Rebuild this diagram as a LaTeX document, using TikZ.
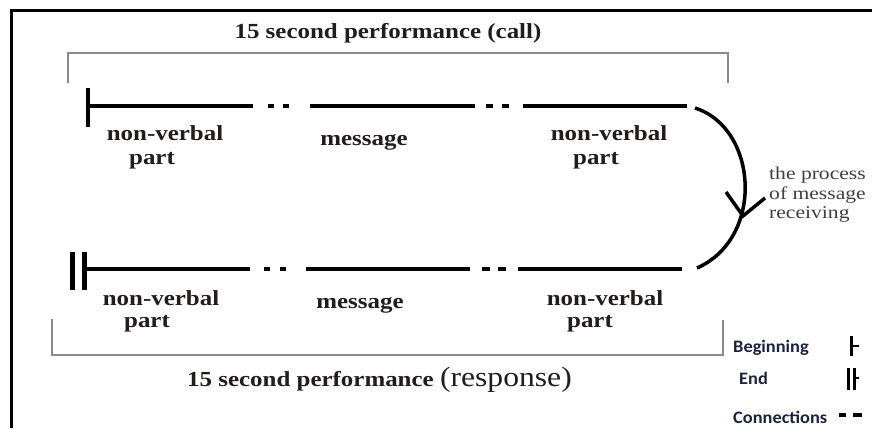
\documentclass[tikz,border=0pt]{standalone}
\usepackage{fontspec}
\setmainfont{Liberation Serif}
\newfontfamily\labelfont[FakeStretch=1.16]{Liberation Serif}
\newfontfamily\notefont[FakeStretch=1.2]{Liberation Serif}
\newfontfamily\respfont[FakeStretch=1.13]{Liberation Serif}
\newfontfamily\keyfont[FakeStretch=1.05]{Carlito}
\definecolor{ink}{HTML}{221C1A}
\definecolor{keyink}{HTML}{1C2340}
\definecolor{bracketgray}{HTML}{8A8A8A}
\tikzset{
  seg/.style={line width=4pt},
  linkdash/.style={line width=4pt},
  bracketline/.style={draw=bracketgray, line width=2.5pt},
  lbl/.style={font=\labelfont\bfseries\fontsize{21.5}{24}\selectfont, text=ink, inner sep=0pt, anchor=base},
  note/.style={font=\notefont\fontsize{18}{19.5}\selectfont, text=ink!85, inner sep=0pt, align=left, anchor=north west},
  keytext/.style={font=\keyfont\bfseries\fontsize{17.5}{20}\selectfont, text=keyink, inner sep=0pt, anchor=base west},
  keymark/.style={line width=3pt, draw=black},
}
\begin{document}
\begin{tikzpicture}[x=1pt,y=-1pt]
\useasboundingbox (0,0) rectangle (872,428);
\fill[white] (0,0) rectangle (872,428);
% outer frame (top and left edges)
\draw[line width=3pt] (11,428) -- (11,11) -- (872,11);

% ---------- call ----------
\node[lbl] (calltitle) at (388,39) {15 second performance (call)};
\draw[bracketline] (68,83) -- (68,53) -- (728,53) -- (728,83);

\coordinate (c0) at (88,106);
\coordinate (c1) at (253,106);
\coordinate (c2) at (310,106);
\coordinate (c3) at (475,106);
\coordinate (c4) at (523,106);
\coordinate (c5) at (687,106);
\draw[seg] (88,88) -- (88,127);
\draw[seg] (c0) -- (c1);
\draw[linkdash] (268,106) -- ++(6,0) (283,106) -- ++(6,0);
\draw[seg] (c2) -- (c3);
\draw[linkdash] (486,106) -- ++(7,0) (502,106) -- ++(7,0);
\draw[seg] (c4) -- (c5);

\node[lbl] (cnv1) at (165,140) {non-verbal};
\node[lbl] (cpt1) at (152,164) {part};
\node[lbl] (cmsg) at (364,145) {message};
\node[lbl] (cnv2) at (609,140) {non-verbal};
\node[lbl] (cpt2) at (596,164) {part};

% ---------- receiving ----------
\coordinate (arcstart) at (695,108);
\coordinate (arcend) at (697,268);
\draw[line width=3.5pt] (arcstart) .. controls (758,128) and (765,238) .. (arcend);
\coordinate (tip) at (743,216);
\draw[line width=3.5pt, line join=miter] (tip) +(-17,-24) -- (tip) -- +(22,-18);
\node[note] (recv) at (769,167) {the process\\of message\\receiving};

% ---------- response ----------
\coordinate (r0) at (85,269);
\coordinate (r1) at (250,269);
\coordinate (r2) at (306,269);
\coordinate (r3) at (470,269);
\coordinate (r4) at (518,269);
\coordinate (r5) at (682,269);
\draw[seg, line width=5pt] (72,252) -- (72,290);
\draw[seg, line width=5pt] (84,252) -- (84,290);
\draw[seg] (r0) -- (r1);
\draw[linkdash] (264,269) -- ++(6,0) (280,269) -- ++(6,0);
\draw[seg] (r2) -- (r3);
\draw[linkdash] (482,269) -- ++(8,0) (498,269) -- ++(8,0);
\draw[seg] (r4) -- (r5);

\node[lbl] (rnv1) at (161,305) {non-verbal};
\node[lbl] (rpt1) at (147,327) {part};
\node[lbl] (rmsg) at (360,308) {message};
\node[lbl] (rnv2) at (605,305) {non-verbal};
\node[lbl] (rpt2) at (590,327) {part};

\draw[bracketline] (52,319) -- (52,355) -- (723,355) -- (723,320);
\node[lbl, anchor=base west] (resptitle) at (187,386)
  {15 second performance {\respfont\mdseries\fontsize{28}{30}\selectfont(response)}};

% ---------- key ----------
\node[keytext] (kbeg) at (733,352) {Beginning};
\node[keytext] (kend) at (739,384) {End};
\node[keytext] (kcon) at (733,423) {Connections};
\draw[keymark] (851,336) -- (851,356);
\draw[keymark, line width=2.5pt] (851,346) -- (859,346);
\draw[keymark] (848,368) -- (848,390);
\draw[keymark] (854,368) -- (854,390);
\draw[keymark, line width=2.5pt] (854,378) -- (859,378);
\draw[keymark, line width=3.5pt] (839,415) -- (846,415) (853,415) -- (862,415);
\end{tikzpicture}
\end{document}
